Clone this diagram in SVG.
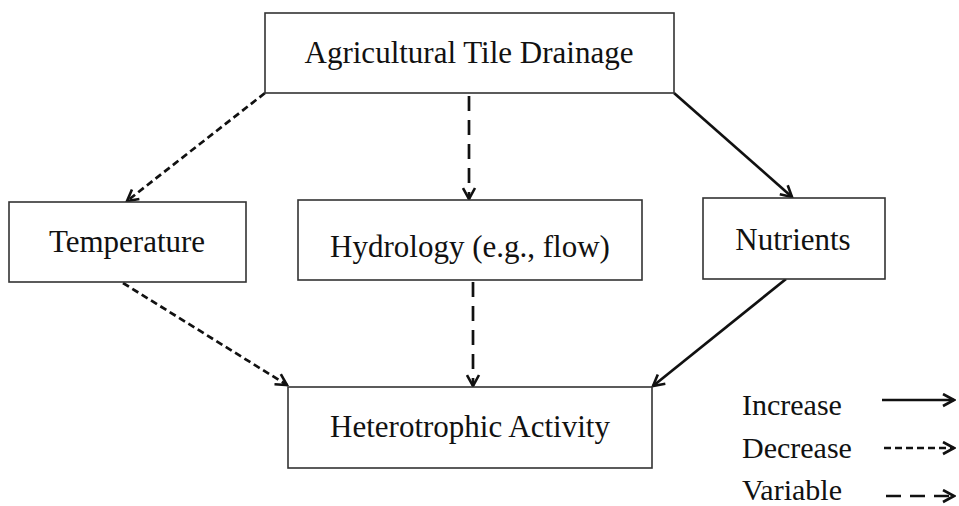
<svg xmlns="http://www.w3.org/2000/svg" width="959" height="506" viewBox="0 0 959 506">
<defs>
<style>
.box{fill:#fff;stroke:#333;stroke-width:1.6}
.lbl{font-family:"Liberation Serif","Times New Roman",serif;font-size:31px;fill:#111;text-anchor:middle}
.leg{font-family:"Liberation Serif","Times New Roman",serif;font-size:30px;fill:#111}
.c{fill:none;stroke:#111;stroke-width:2.7}
.inc{}
.dec{stroke-dasharray:7 4}
.var{stroke-dasharray:15 9}
</style>
<marker id="ah" markerUnits="userSpaceOnUse" markerWidth="15" markerHeight="15" viewBox="0 0 15 15" refX="13" refY="7.5" orient="auto">
<path d="M2,1.5 L13,7.5 L2,13.5" fill="none" stroke="#111" stroke-width="2.6"/>
</marker>
</defs>
<rect width="959" height="506" fill="#fff"/>
<g id="connectors">
<line class="c dec" x1="265" y1="93" x2="127" y2="201" marker-end="url(#ah)"/>
<line class="c var" x1="469" y1="96" x2="469" y2="199" marker-end="url(#ah)"/>
<line class="c inc" x1="674" y1="93" x2="792" y2="197" marker-end="url(#ah)"/>
<line class="c dec" x1="123" y1="283" x2="287" y2="385" marker-end="url(#ah)"/>
<line class="c var" x1="473" y1="282" x2="473" y2="386" marker-end="url(#ah)"/>
<line class="c inc" x1="786" y1="279" x2="653" y2="386" marker-end="url(#ah)"/>
</g>
<g id="n-drainage">
<rect class="box" x="265" y="13" width="409" height="80"/>
<text class="lbl" x="469" y="63">Agricultural Tile Drainage</text>
</g>
<g id="n-temperature">
<rect class="box" x="9" y="202" width="237" height="80"/>
<text class="lbl" x="127" y="252">Temperature</text>
</g>
<g id="n-hydrology">
<rect class="box" x="298" y="200" width="344" height="80"/>
<text class="lbl" x="470" y="257">Hydrology (e.g., flow)</text>
</g>
<g id="n-nutrients">
<rect class="box" x="703" y="198" width="182" height="81"/>
<text class="lbl" x="793" y="250">Nutrients</text>
</g>
<g id="n-heterotrophic">
<rect class="box" x="288" y="387" width="364" height="81"/>
<text class="lbl" x="470" y="437">Heterotrophic Activity</text>
</g>
<g id="legend">
<text class="leg" x="742" y="415">Increase</text>
<text class="leg" x="742" y="458">Decrease</text>
<text class="leg" x="742" y="500">Variable</text>
<line class="c inc" x1="882" y1="400" x2="954" y2="400" marker-end="url(#ah)"/>
<line class="c dec" x1="884" y1="448" x2="954" y2="448" marker-end="url(#ah)"/>
<line class="c var" x1="886" y1="496" x2="954" y2="496" marker-end="url(#ah)"/>
</g>
</svg>
